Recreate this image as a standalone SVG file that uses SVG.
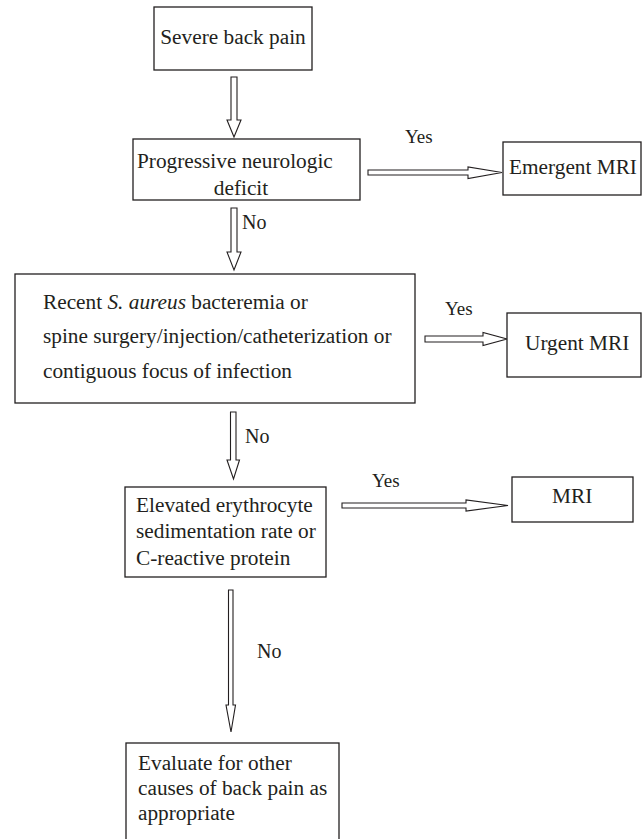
<svg xmlns="http://www.w3.org/2000/svg" width="644" height="839" viewBox="0 0 644 839" font-family="'Liberation Serif', 'DejaVu Serif', serif">
<style>
.box{fill:#ffffff;stroke:#231f20;stroke-width:1.3}
.arr{fill:#ffffff;stroke:#231f20;stroke-width:1.1;stroke-linejoin:miter}
.t{font-family:'Liberation Serif','DejaVu Serif',serif;font-size:21.3px;fill:#231f20}
.lbl{font-family:'Liberation Serif','DejaVu Serif',serif;font-size:20px;fill:#231f20}
.yes{font-size:19px}
.mid{text-anchor:middle}
</style>
<rect x="0" y="0" width="644" height="839" fill="#ffffff"/>
<g id="connectors">
  <polygon class="arr" points="231,77 237,77 237,120 241,120 234,137 227,120 231,120"/>
  <polygon class="arr" points="231,208 237,208 237,252 241,252 234,270 227,252 231,252"/>
  <polygon class="arr" points="230.5,412 236,412 236,460 239.5,460 233.5,479 227,460 230.5,460"/>
  <polygon class="arr" points="228.5,590 233,590 233,705 235.5,705 231,732 226,705 228.5,705"/>
  <polygon class="arr" points="368,170 468,170 468,167 502,172.5 468,178.5 468,175 368,175"/>
  <polygon class="arr" points="425,336 483,336 483,332.5 507,339 483,345.5 483,342 425,342"/>
  <polygon class="arr" points="342,503 466,503 466,500 508,505.5 466,511 466,508 342,508"/>
  <text class="lbl yes" x="405" y="143">Yes</text>
  <text class="lbl" x="242" y="229">No</text>
  <text class="lbl yes" x="445" y="315">Yes</text>
  <text class="lbl" x="245" y="443">No</text>
  <text class="lbl yes" x="372" y="487">Yes</text>
  <text class="lbl" x="257" y="658">No</text>
</g>
<g id="node-severe">
  <rect class="box" x="154" y="7" width="158" height="63"/>
  <text class="t mid" x="233" y="44">Severe back pain</text>
</g>
<g id="node-progressive">
  <rect class="box" x="133" y="139" width="227" height="61"/>
  <text class="t" x="137" y="168">Progressive neurologic</text>
  <text class="t mid" x="241" y="195">deficit</text>
</g>
<g id="node-emergent">
  <rect class="box" x="503" y="142" width="138" height="53"/>
  <text class="t" x="509" y="174">Emergent MRI</text>
</g>
<g id="node-recent">
  <rect class="box" x="15" y="274" width="400" height="129"/>
  <text class="t" x="43" y="309">Recent <tspan font-style="italic">S. aureus</tspan> bacteremia or</text>
  <text class="t" x="43" y="343">spine surgery/injection/catheterization or</text>
  <text class="t" x="43" y="378">contiguous focus of infection</text>
</g>
<g id="node-urgent">
  <rect class="box" x="507" y="313" width="134" height="64"/>
  <text class="t" x="525" y="350">Urgent MRI</text>
</g>
<g id="node-elevated">
  <rect class="box" x="125" y="487" width="201" height="90"/>
  <text class="t" x="136" y="512">Elevated erythrocyte</text>
  <text class="t" x="136" y="538">sedimentation rate or</text>
  <text class="t" x="136" y="565">C-reactive protein</text>
</g>
<g id="node-mri">
  <rect class="box" x="512" y="477" width="121" height="45"/>
  <text class="t" x="552" y="503">MRI</text>
</g>
<g id="node-evaluate">
  <rect class="box" x="126" y="743" width="213" height="110"/>
  <text class="t" x="138" y="770">Evaluate for other</text>
  <text class="t" x="138" y="795">causes of back pain as</text>
  <text class="t" x="138" y="820">appropriate</text>
</g>
</svg>
